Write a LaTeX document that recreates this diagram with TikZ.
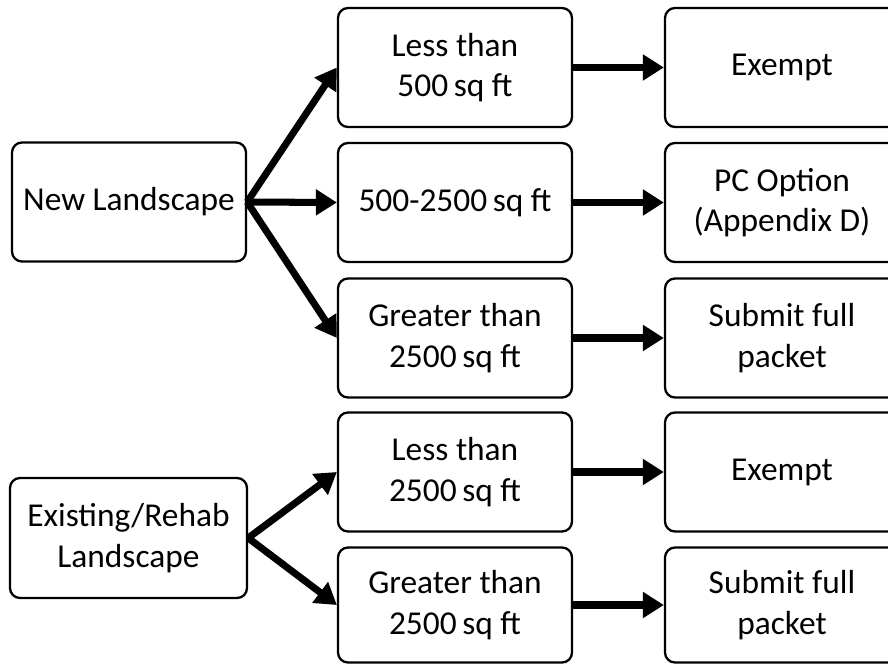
\documentclass[tikz,border=0pt]{standalone}
\usepackage{fontspec}
\setmainfont{Carlito}
\usetikzlibrary{arrows.meta}
\tikzstyle{every node}=[draw=black,line width=1.3pt,rounded corners=2mm,align=center,font=\fontsize{19}{23}\selectfont]
\tikzstyle{sizebox}=[minimum width=4.68cm,minimum height=2.38cm,inner sep=0pt]
\tikzstyle{flow}=[line width=4pt,-{Triangle[length=4.2mm,width=5mm]}]

\begin{document}
\begin{tikzpicture}
          \clip (0,0) rectangle (17.76,13.3);
          % start boxes
          \node[sizebox] (new) at (2.58,9.26) {New Landscape};
          \node[sizebox,minimum width=4.74cm,minimum height=2.4cm] (exist) at (2.57,2.54) {Existing/Rehab\\Landscape};
          % area boxes
          \node[sizebox] (newsmall) at (9.10,11.95) {Less than\\500\,sq ft};
          \node[sizebox] (newmid)   at (9.10,9.25)  {500-2500\,sq ft};
          \node[sizebox] (newbig)   at (9.10,6.54)  {Greater than\\2500\,sq ft};
          \node[sizebox] (oldsmall) at (9.10,3.86)  {Less than\\2500\,sq ft};
          \node[sizebox,minimum height=2.3cm] (oldbig) at (9.10,1.2) {Greater than\\2500\,sq ft};
          % outcome boxes
          \node[sizebox] (exempta)  at (15.64,11.95) {Exempt};
          \node[sizebox] (pcopt)    at (15.64,9.25)  {PC Option\\(Appendix D)};
          \node[sizebox] (packeta)  at (15.64,6.54)  {Submit full\\packet};
          \node[sizebox] (exemptb)  at (15.64,3.86)  {Exempt};
          \node[sizebox,minimum height=2.3cm] (packetb) at (15.64,1.2) {Submit full\\packet};
          % arrows
          \draw[flow] (new.east) -- (newsmall.west);
          \draw[flow] (new.east) -- (newmid.west);
          \draw[flow] (new.east) -- (newbig.west);
          \draw[flow] (exist.east) -- (oldsmall.west);
          \draw[flow] (exist.east) -- (oldbig.west);
          \draw[flow] (newsmall) -- (exempta);
          \draw[flow] (newmid) -- (pcopt);
          \draw[flow] (newbig) -- (packeta);
          \draw[flow] (oldsmall) -- (exemptb);
          \draw[flow] (oldbig) -- (packetb);
\end{tikzpicture}
\end{document}
